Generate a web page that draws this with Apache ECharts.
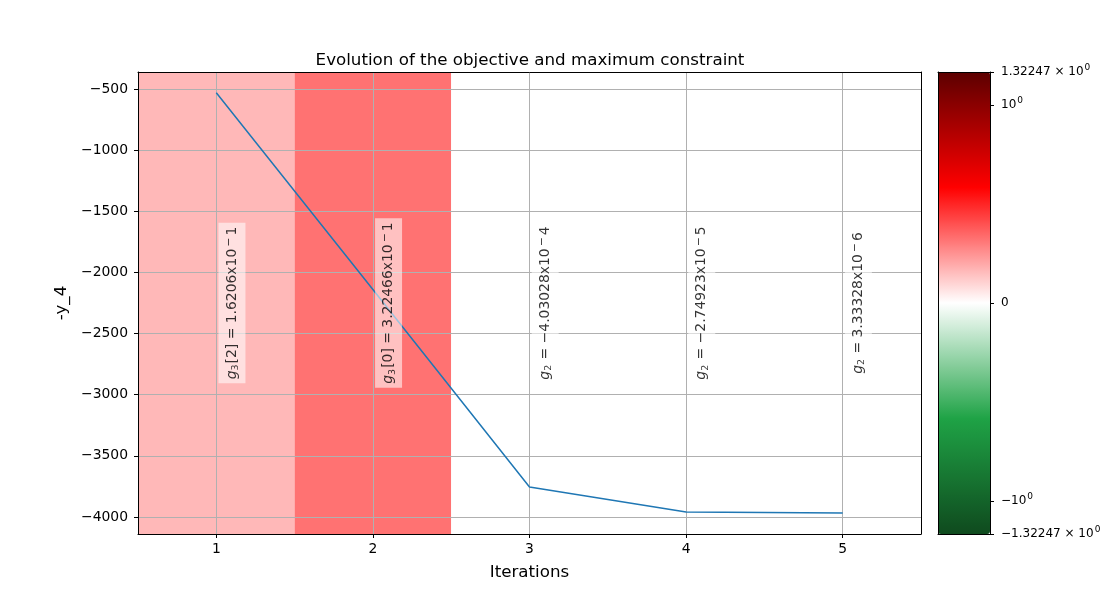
<!DOCTYPE html>
<html>
<head>
<meta charset="utf-8">
<script src="https://cdn.jsdelivr.net/npm/echarts@6/dist/echarts.min.js"></script>
<style>
  html, body { margin: 0; padding: 0; background: #fff; }
  #chart { width: 1100px; height: 600px; }
</style>
</head>
<body>
<div id="chart"></div>
<script>
// dados
const iteracoes = [1, 2, 3, 4, 5];
const objetivo = [-530, -2140, -3754, -3959, -3967];
const restricaoValores = [0.16206, 0.322466, -4.03028e-4, -2.74923e-5, 3.33328e-6];
const restricaoNomes = ['g', 'g', 'g', 'g', 'g'];
const restricaoSub = ['3', '3', '2', '2', '2'];
const restricaoIndice = ['[2]', '[0]', '', '', ''];
const mantissas = ['1.6206', '3.22466', '−4.03028', '−2.74923', '3.33328'];
const expoentes = ['1', '1', '4', '5', '6'];
const yTicks = [-500, -1000, -1500, -2000, -2500, -3000, -3500, -4000];
const yMin = -4139, yMax = -361;
const cbLimite = 1.32247;
const cbCores = ['#0f4a1e', '#1fa346', '#ffffff', '#ff0000', '#5c0000'];

// escala symlog aproximada (linthresh = 1)
const LIN = 0.728;
function symlog(v) {
  const a = Math.abs(v);
  const t = a <= 1 ? a * LIN : LIN + Math.log10(a);
  return v < 0 ? -t : t;
}
const cbMax = symlog(cbLimite);

const fonte = 'DejaVu Sans';
const yMeio = (yMin + yMax) / 2;

const faixas = iteracoes.map((it, i) => [it, symlog(restricaoValores[i])]);
const rotulos = iteracoes.map((it, i) => [it + 0.1, yMeio]);

const chart = echarts.init(document.getElementById('chart'), null, { renderer: 'canvas' });

chart.setOption({
  backgroundColor: '#fff',
  animation: false,
  textStyle: { fontFamily: fonte },
  title: {
    text: 'Evolution of the objective and maximum constraint',
    left: 525, top: 47, textAlign: 'center',
    textStyle: { fontFamily: fonte, fontSize: 16.7, fontWeight: 'normal', color: '#000' }
  },
  grid: [
    { left: 138, top: 72, width: 783, height: 462, outerBoundsMode: 'none', containLabel: false },
    { left: 938, top: 72, width: 52, height: 462, outerBoundsMode: 'none', containLabel: false }
  ],
  xAxis: [
    {
      gridIndex: 0, type: 'value', min: 0.5, max: 5.5, z: 3,
      name: 'Iterations', nameLocation: 'middle', nameGap: 30,
      nameTextStyle: { fontFamily: fonte, fontSize: 16.7, color: '#000' },
      axisLine: { show: true, onZero: false, lineStyle: { color: '#000' } },
      axisTick: { show: true, length: 4, lineStyle: { color: '#000' }, customValues: iteracoes },
      axisLabel: { color: '#000', fontSize: 13.9, margin: 8, customValues: iteracoes },
      splitLine: { show: true, lineStyle: { color: '#b0b0b0', width: 1 } }
    },
    {
      gridIndex: 0, type: 'value', min: 0.5, max: 5.5, position: 'top', z: 3,
      axisLine: { show: true, onZero: false, lineStyle: { color: '#000' } },
      axisTick: { show: false }, axisLabel: { show: false }, splitLine: { show: false }
    },
    {
      gridIndex: 1, type: 'value', min: 0, max: 1, z: 10,
      axisLine: { show: true, onZero: false, lineStyle: { color: '#000' } },
      axisTick: { show: false }, axisLabel: { show: false }, splitLine: { show: false }
    },
    {
      gridIndex: 1, type: 'value', min: 0, max: 1, position: 'top', z: 10,
      axisLine: { show: true, onZero: false, lineStyle: { color: '#000' } },
      axisTick: { show: false }, axisLabel: { show: false }, splitLine: { show: false }
    }
  ],
  yAxis: [
    {
      gridIndex: 0, type: 'value', min: yMin, max: yMax, z: 3,
      name: '-y_4', nameLocation: 'middle', nameGap: 64, nameRotate: 90,
      nameTextStyle: { fontFamily: fonte, fontSize: 16.7, color: '#000' },
      axisLine: { show: true, onZero: false, lineStyle: { color: '#000' } },
      axisTick: { show: true, length: 4, lineStyle: { color: '#000' }, customValues: yTicks },
      axisLabel: {
        color: '#000', fontSize: 13.9, margin: 10, customValues: yTicks,
        formatter: v => String(v).replace('-', '−')
      },
      splitLine: { show: true, lineStyle: { color: '#b0b0b0', width: 1 } }
    },
    {
      gridIndex: 0, type: 'value', min: yMin, max: yMax, position: 'right', z: 3,
      axisLine: { show: true, onZero: false, lineStyle: { color: '#000' } },
      axisTick: { show: false }, axisLabel: { show: false }, splitLine: { show: false }
    },
    {
      gridIndex: 1, type: 'value', min: -cbMax, max: cbMax, position: 'right', z: 10,
      axisLine: { show: true, onZero: false, lineStyle: { color: '#000' } },
      axisTick: {
        show: true, length: 4, lineStyle: { color: '#000' },
        customValues: [-cbMax, -LIN, 0, LIN, cbMax]
      },
      axisLabel: {
        color: '#000', fontSize: 12, margin: 11,
        customValues: [-cbMax, -LIN, 0, LIN, cbMax],
        formatter: v => {
          if (Math.abs(v) < 1e-9) return '0';
          const sinal = v < 0 ? '−' : '';
          if (Math.abs(Math.abs(v) - cbMax) < 1e-6) return sinal + cbLimite + ' × 10{s|0}';
          return sinal + '10{s|0}';
        },
        rich: { s: { fontSize: 9, verticalAlign: 'top', padding: [0, 0, 8, 1] } }
      },
      splitLine: { show: false }
    },
    {
      gridIndex: 1, type: 'value', min: -cbMax, max: cbMax, position: 'left', z: 10,
      axisLine: { show: true, onZero: false, lineStyle: { color: '#000' } },
      axisTick: { show: false }, axisLabel: { show: false }, splitLine: { show: false }
    }
  ],
  visualMap: {
    type: 'continuous',
    seriesIndex: 0,
    dimension: 1,
    min: -cbMax, max: cbMax,
    calculable: false,
    realtime: false,
    hoverLink: false,
    left: 938, top: 72, padding: 0,
    itemWidth: 52, itemHeight: 462,
    text: null,
    inRange: { color: cbCores }
  },
  series: [
    {
      type: 'custom', xAxisIndex: 0, yAxisIndex: 0, z: 1,
      data: faixas,
      encode: { x: 0 },
      renderItem: (params, api) => {
        const p0 = api.coord([api.value(0) - 0.5, yMax]);
        const p1 = api.coord([api.value(0) + 0.5, yMin]);
        return {
          type: 'rect',
          shape: { x: p0[0], y: p0[1], width: p1[0] - p0[0], height: p1[1] - p0[1] },
          style: { fill: api.visual('color') }
        };
      }
    },
    {
      type: 'line', xAxisIndex: 0, yAxisIndex: 0, z: 5,
      data: iteracoes.map((it, i) => [it, objetivo[i]]),
      showSymbol: false, symbol: 'none',
      lineStyle: { color: '#1f77b4', width: 1.5 }
    },
    {
      type: 'scatter', xAxisIndex: 0, yAxisIndex: 0, z: 6,
      data: rotulos, symbolSize: 0,
      label: {
        show: true, position: 'inside', rotate: 90,
        backgroundColor: 'rgba(255,255,255,0.7)', padding: [5, 4, 5, 4],
        color: '#000', fontSize: 13.9, fontFamily: fonte,
        formatter: p => {
          const i = p.dataIndex;
          return '{i|' + restricaoNomes[i] + '}{sub|' + restricaoSub[i] + '}' +
            restricaoIndice[i] + ' = ' + mantissas[i] + 'x10{sup|−}' + expoentes[i];
        },
        rich: {
          i: { fontStyle: 'italic', fontSize: 13.9, fontFamily: fonte },
          sub: { fontSize: 9.5, verticalAlign: 'bottom', padding: [6, 1, 0, 0] },
          sup: { fontSize: 11, verticalAlign: 'top', padding: [0, 2, 6, 2] }
        }
      }
    }
  ]
});
</script>
</body>
</html>
